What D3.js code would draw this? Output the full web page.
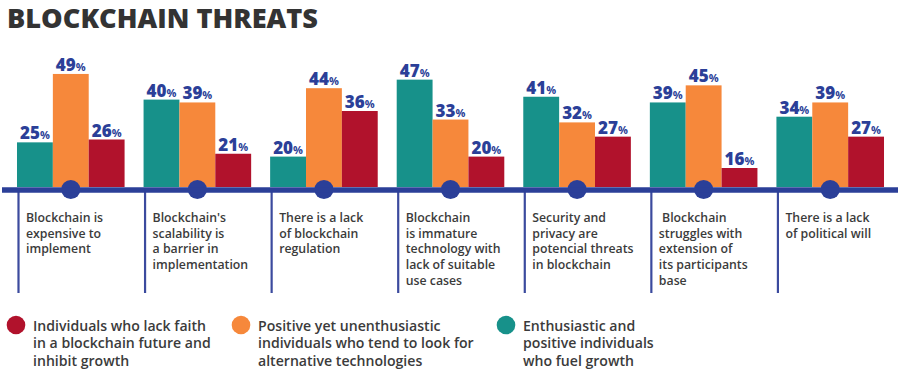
<!DOCTYPE html>
<html>
<head>
<meta charset="utf-8">
<script src="https://cdn.jsdelivr.net/npm/d3@7"></script>
<style>
  html, body { margin: 0; padding: 0; background: #fff; }
  svg { display: block; }
</style>
</head>
<body>
<svg id="chart" width="900" height="374"></svg>
<script>
const title = "BLOCKCHAIN THREATS";
const categories = [
  ["Blockchain is", "expensive to", "implement"],
  ["Blockchain's", "scalability is", "a barrier in", "implementation"],
  ["There is a lack", "of blockchain", "regulation"],
  ["Blockchain", "is immature", "technology with", "lack of suitable", "use cases"],
  ["Security and", "privacy are", "potencial threats", "in blockchain"],
  [" Blockchain", "struggles with", "extension of", "its participants", "base"],
  ["There is a lack", "of political will"]
];
const seriesKeys = ["enthusiastic", "positive", "lackFaith"];
const enthusiastic = [25, 40, 20, 47, 41, 39, 34];
const positive     = [49, 39, 44, 33, 32, 45, 39];
const lackFaith    = [26, 21, 36, 20, 27, 16, 27];
const seriesColors = ["#17918a", "#f6883b", "#b1122c"];
const legendLabels = [
  { key: "lackFaith", color: "#b1122c", lines: ["Individuals who lack faith", "in a blockchain future and", "inhibit growth"] },
  { key: "positive", color: "#f6883b", lines: ["Positive yet unenthusiastic", "individuals who tend to look for", "alternative technologies"] },
  { key: "enthusiastic", color: "#17918a", lines: ["Enthusiastic and", "positive individuals", "who fuel growth"] }
];

const seriesValues = { enthusiastic, positive, lackFaith };
const blue = "#2b3f98";
const textColor = "#3b3b3b";
const svg = d3.select("#chart");
const font = "'Open Sans', 'Noto Sans', sans-serif";

// Title
svg.append("text")
  .attr("x", 7).attr("y", 27.5)
  .attr("font-family", font).attr("font-weight", 800)
  .attr("font-size", 26).attr("fill", "#333")
  .attr("textLength", 311).attr("lengthAdjust", "spacingAndGlyphs")
  .text(title);

const baseY = 187;
const x = d3.scaleBand().domain(d3.range(categories.length))
  .range([7.5, 893.5]).paddingInner(0.15).paddingOuter(0.075);
const xs = d3.scaleBand().domain(seriesKeys).range([0, x.bandwidth()]);
const y = d3.scaleLinear().domain([0, 50]).range([213.6, 71.1]);

const groups = svg.append("g").selectAll("g").data(categories).join("g")
  .attr("transform", (d, i) => `translate(${x(i)},0)`);

seriesKeys.forEach((k, si) => {
  groups.append("rect")
    .attr("x", xs(k))
    .attr("y", (d, i) => y(seriesValues[k][i]))
    .attr("width", xs.bandwidth())
    .attr("height", (d, i) => baseY - y(seriesValues[k][i]))
    .attr("fill", seriesColors[si]);
  const t = groups.append("text")
    .attr("x", xs(k) + xs.bandwidth() / 2)
    .attr("y", (d, i) => y(seriesValues[k][i]) - 3)
    .attr("text-anchor", "middle")
    .attr("font-family", font).attr("font-weight", 800)
    .attr("fill", blue);
  t.append("tspan").attr("font-size", 17).text((d, i) => seriesValues[k][i]);
  t.append("tspan").attr("font-size", 11).attr("font-weight", 700).text("%");
});

// vertical lines
groups.append("line")
  .attr("x1", 1.5).attr("x2", 1.5)
  .attr("y1", 190).attr("y2", 293)
  .attr("stroke", "#3b4a9e").attr("stroke-width", 2.2);

// axis line
svg.append("line")
  .attr("x1", 2).attr("x2", 898).attr("y1", 190).attr("y2", 190)
  .attr("stroke", blue).attr("stroke-width", 5.5);

// circles
groups.append("circle")
  .attr("cx", x.bandwidth() / 2).attr("cy", 189.5).attr("r", 9.6)
  .attr("fill", blue);

// category labels
groups.append("text")
  .attr("x", 9).attr("y", 222)
  .attr("font-family", font).attr("font-weight", 600)
  .attr("font-size", 12.3).attr("fill", textColor)
  .style("white-space", "pre")
  .selectAll("tspan").data(d => d).join("tspan")
  .attr("x", 9).attr("dy", (d, i) => i === 0 ? 0 : 15.7)
  .text(d => d);

// legend
const legendX = [16, 241, 506];
const lg = svg.append("g").selectAll("g").data(legendLabels).join("g")
  .attr("transform", (d, i) => `translate(${legendX[i]},325)`);
lg.append("circle").attr("cx", 0).attr("cy", 0).attr("r", 9.3).attr("fill", d => d.color);
lg.append("text")
  .attr("font-family", font).attr("font-weight", 600)
  .attr("font-size", 14.1).attr("fill", textColor)
  .selectAll("tspan").data(d => d.lines).join("tspan")
  .attr("x", 17).attr("y", (d, i) => 6 + i * 17.3)
  .text(d => d);
</script>
</body>
</html>
